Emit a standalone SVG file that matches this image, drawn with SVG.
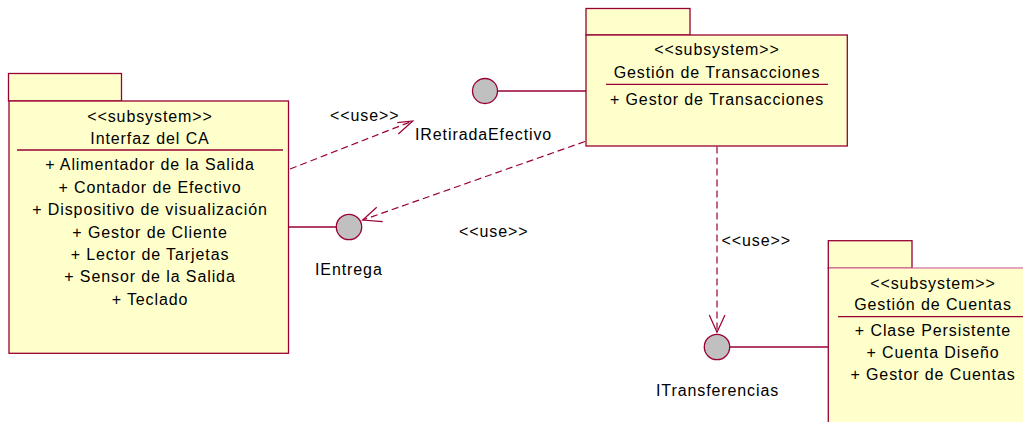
<svg xmlns="http://www.w3.org/2000/svg" width="1023" height="422" viewBox="0 0 1023 422">
<defs>
<style>
.pk{fill:#ffffcc;stroke:#990033;stroke-width:1.3}
.sep{stroke:#990033;stroke-width:1.3}
.t{font-family:"Liberation Sans",Arial,sans-serif;font-size:16px;letter-spacing:0.9px;fill:#000}
.c{text-anchor:middle}
.ifc{fill:#c0c0c0;stroke:#990033;stroke-width:1.3}
.ln{stroke:#990033;stroke-width:1.3;fill:none}
.dash{stroke:#990033;stroke-width:1.2;fill:none;stroke-dasharray:7 4}
.ah{stroke:#990033;stroke-width:1.2;fill:none}
</style>
</defs>
<rect width="1023" height="422" fill="#ffffff"/>
<g id="connectors">
<line class="ln" x1="289" y1="227" x2="336" y2="227"/>
<line class="ln" x1="497.5" y1="91" x2="586" y2="91"/>
<line class="ln" x1="730" y1="347" x2="828" y2="347"/>
<line class="dash" x1="290" y1="169" x2="412.7" y2="121"/>
<polyline class="ah" points="397.3,122.7 412.7,121 398.3,134"/>
<text class="t" x="330" y="121">&lt;&lt;use&gt;&gt;</text>
<line class="dash" x1="585" y1="141.5" x2="362.7" y2="220"/>
<polyline class="ah" points="376.7,207.3 362.7,220 382.7,221.7"/>
<text class="t" x="459" y="237">&lt;&lt;use&gt;&gt;</text>
<line class="dash" x1="717" y1="146.5" x2="717" y2="332.3"/>
<polyline class="ah" points="709.3,315 717,332.3 725,315"/>
<text class="t" x="721.5" y="246">&lt;&lt;use&gt;&gt;</text>
</g>
<g id="interfaz-ca">
<rect class="pk" x="8.5" y="73.5" width="113" height="27.5"/>
<rect class="pk" x="9" y="101" width="279.5" height="252.3"/>
<line class="sep" x1="17" y1="150" x2="283" y2="150"/>
<text class="t c" x="150" y="122">&lt;&lt;subsystem&gt;&gt;</text>
<text class="t c" x="150" y="143.5">Interfaz del CA</text>
<text class="t c" x="150" y="170">+ Alimentador de la Salida</text>
<text class="t c" x="150" y="192.5">+ Contador de Efectivo</text>
<text class="t c" x="150" y="215">+ Dispositivo de visualización</text>
<text class="t c" x="150" y="237.5">+ Gestor de Cliente</text>
<text class="t c" x="150" y="260">+ Lector de Tarjetas</text>
<text class="t c" x="150" y="282">+ Sensor de la Salida</text>
<text class="t c" x="150" y="304.5">+ Teclado</text>
</g>
<g id="gestion-transacciones">
<rect class="pk" x="586" y="8.5" width="104" height="26.5"/>
<rect class="pk" x="586" y="35" width="261.3" height="111"/>
<line class="sep" x1="606" y1="84.3" x2="828" y2="84.3"/>
<text class="t c" x="717" y="55">&lt;&lt;subsystem&gt;&gt;</text>
<text class="t c" x="717" y="78">Gestión de Transacciones</text>
<text class="t c" x="717" y="104.5">+ Gestor de Transacciones</text>
</g>
<g id="gestion-cuentas">
<rect class="pk" x="828.3" y="240.7" width="83.7" height="27.6"/>
<rect class="pk" x="828.3" y="268.3" width="210" height="170"/>
<line x1="829" y1="268.3" x2="1023" y2="268.3" stroke="#e8a8bc" stroke-width="1.3"/>
<line class="sep" x1="838" y1="316.7" x2="1030" y2="316.7"/>
<text class="t c" x="933" y="288.5">&lt;&lt;subsystem&gt;&gt;</text>
<text class="t c" x="933" y="310">Gestión de Cuentas</text>
<text class="t c" x="933" y="336">+ Clase Persistente</text>
<text class="t c" x="933" y="358">+ Cuenta Diseño</text>
<text class="t c" x="933" y="380">+ Gestor de Cuentas</text>
</g>
<g id="iretiradaefectivo">
<circle class="ifc" cx="485" cy="91" r="12.5"/>
<text class="t" x="415" y="140">IRetiradaEfectivo</text>
</g>
<g id="ientrega">
<circle class="ifc" cx="349" cy="227" r="12.7"/>
<text class="t" x="315" y="275">IEntrega</text>
</g>
<g id="itransferencias">
<circle class="ifc" cx="717" cy="347" r="12.7"/>
<text class="t" x="656" y="396">ITransferencias</text>
</g>
</svg>
